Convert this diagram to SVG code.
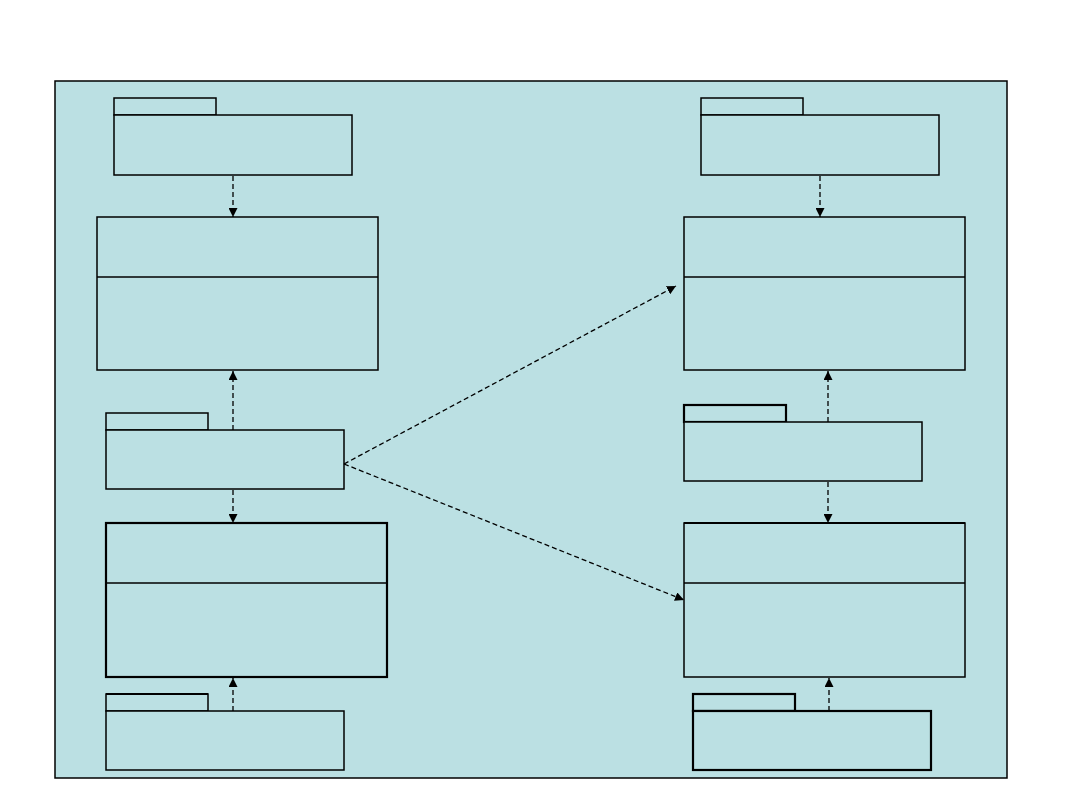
<svg xmlns="http://www.w3.org/2000/svg" width="1080" height="810" viewBox="0 0 1080 810">
<style>
.bg{fill:#BBE0E3;stroke:#000;stroke-width:1.5}
.n{fill:#BBE0E3;stroke:#000;stroke-width:1.5}
.t{fill:#BBE0E3;stroke:#000;stroke-width:2.2}
.c{fill:none;stroke:#000;stroke-width:1.3;stroke-dasharray:5 3}
</style>
<defs>
<marker id="ah" viewBox="0 0 10 10" refX="10" refY="5" markerWidth="9" markerHeight="9" markerUnits="userSpaceOnUse" orient="auto">
<path d="M0,0 L10,5 L0,10 z" fill="#000"/>
</marker>
</defs>
<rect x="0" y="0" width="1080" height="810" fill="#fff"/>
<rect class="bg" x="55" y="81" width="952" height="697"/>
<g id="pkg-tl">
<rect class="n" x="114" y="98" width="102" height="17"/>
<rect class="n" x="114" y="115" width="238" height="60"/>
</g>
<g id="cls-l1">
<rect class="n" x="97" y="217" width="281" height="153"/>
<line x1="97" y1="277" x2="378" y2="277" stroke="#000" stroke-width="1.5"/>
</g>
<g id="pkg-l2">
<rect class="n" x="106" y="413" width="102" height="17"/>
<rect class="n" x="106" y="430" width="238" height="59"/>
</g>
<g id="cls-l2">
<rect class="t" x="106" y="523" width="281" height="154"/>
<line x1="106" y1="583" x2="387" y2="583" stroke="#000" stroke-width="1.5"/>
</g>
<g id="pkg-l3">
<rect class="n" x="106" y="694" width="102" height="17"/>
<line x1="106" y1="694" x2="208" y2="694" stroke="#000" stroke-width="2.2"/>
<rect class="n" x="106" y="711" width="238" height="59"/>
</g>
<g id="pkg-tr">
<rect class="n" x="701" y="98" width="102" height="17"/>
<rect class="n" x="701" y="115" width="238" height="60"/>
</g>
<g id="cls-r1">
<rect class="n" x="684" y="217" width="281" height="153"/>
<line x1="684" y1="277" x2="965" y2="277" stroke="#000" stroke-width="1.5"/>
</g>
<g id="pkg-r2">
<rect class="t" x="684" y="405" width="102" height="17"/>
<rect class="n" x="684" y="422" width="238" height="59"/>
</g>
<g id="cls-r2">
<rect class="n" x="684" y="523" width="281" height="154"/>
<line x1="684" y1="523" x2="965" y2="523" stroke="#000" stroke-width="2.2"/>
<line x1="684" y1="583" x2="965" y2="583" stroke="#000" stroke-width="1.5"/>
</g>
<g id="pkg-r3">
<rect class="t" x="693" y="694" width="102" height="17"/>
<rect class="t" x="693" y="711" width="238" height="59"/>
</g>
<g id="connectors">
<line class="c" x1="233" y1="176" x2="233" y2="217" marker-end="url(#ah)"/>
<line class="c" x1="233" y1="430" x2="233" y2="371" marker-end="url(#ah)"/>
<line class="c" x1="233" y1="490" x2="233" y2="523" marker-end="url(#ah)"/>
<line class="c" x1="233" y1="711" x2="233" y2="678" marker-end="url(#ah)"/>
<line class="c" x1="820" y1="176" x2="820" y2="217" marker-end="url(#ah)"/>
<line class="c" x1="828" y1="422" x2="828" y2="371" marker-end="url(#ah)"/>
<line class="c" x1="828" y1="482" x2="828" y2="523" marker-end="url(#ah)"/>
<line class="c" x1="829" y1="711" x2="829" y2="678" marker-end="url(#ah)"/>
<line class="c" x1="344" y1="464" x2="676" y2="286" marker-end="url(#ah)"/>
<line class="c" x1="344" y1="464" x2="684" y2="600" marker-end="url(#ah)"/>
</g>
</svg>
